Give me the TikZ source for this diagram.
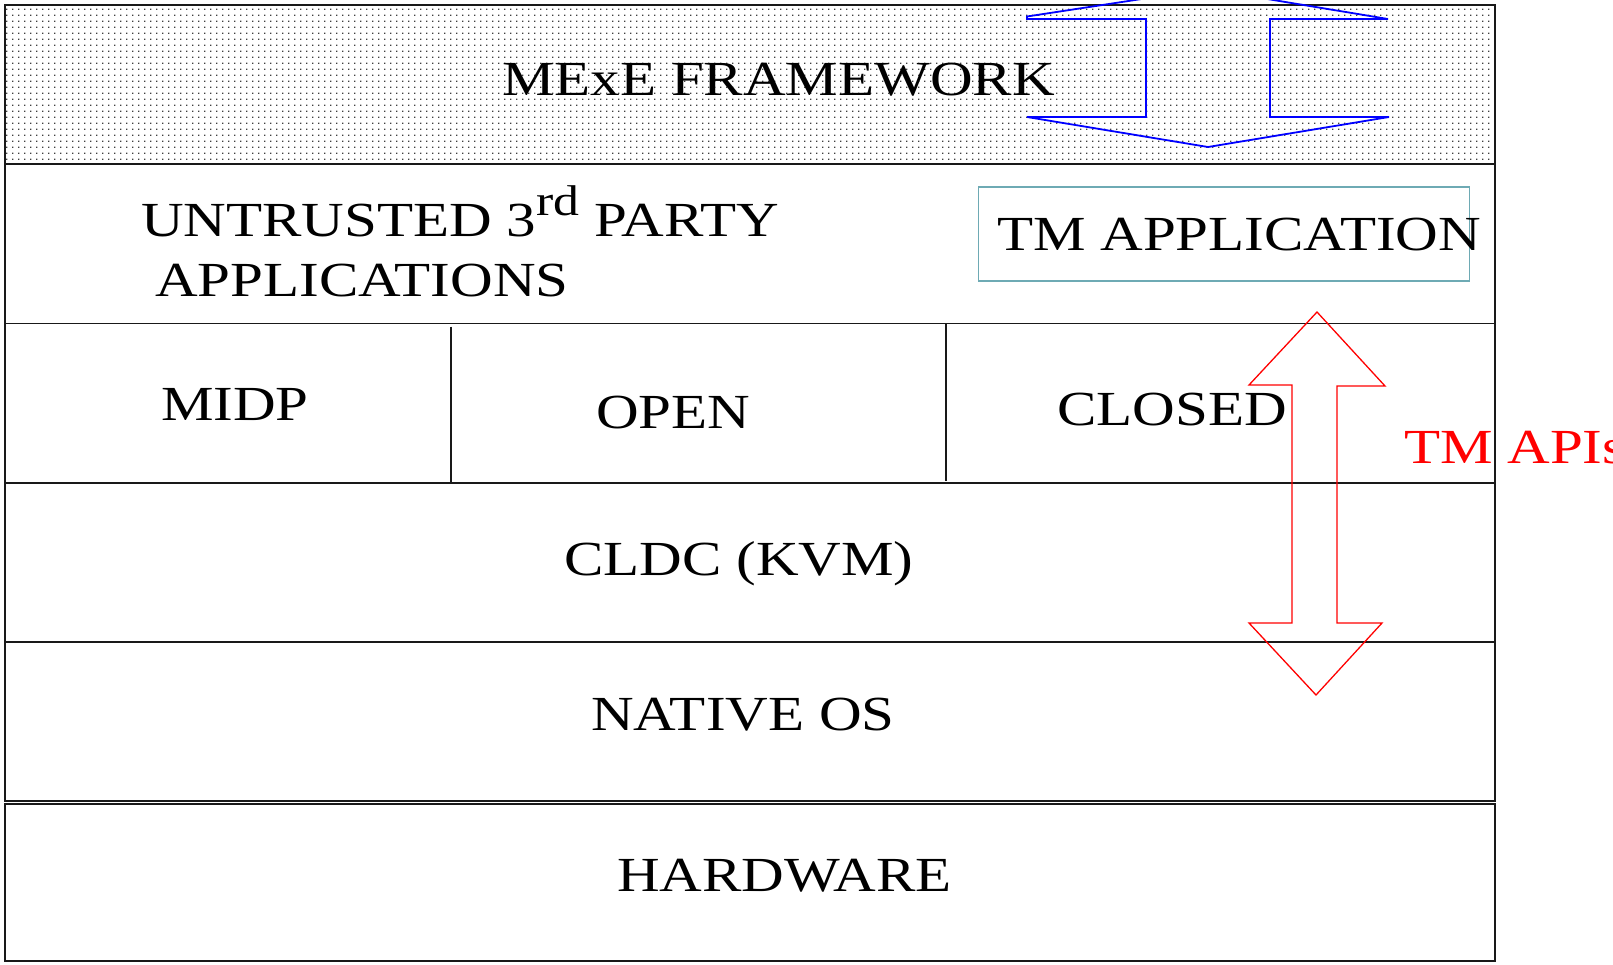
\documentclass[tikz,border=0pt]{standalone}
\usepackage{fontspec}
\setmainfont[FakeStretch=1.205]{Liberation Serif}
\usetikzlibrary{patterns}
\pgfdeclarepatternformonly{mexedots}{\pgfpointorigin}{\pgfpoint{6pt}{6pt}}{\pgfpoint{6pt}{6pt}}{%
  \pgfpathrectangle{\pgfpointorigin}{\pgfpoint{1.6pt}{1.6pt}}\pgfusepath{fill}}
\definecolor{tealbox}{RGB}{110,170,180}
\begin{document}
\begin{tikzpicture}[x=1pt,y=-1pt,
  layer/.style={draw=black!90, line width=1.6pt},
  lbl/.style={inner sep=0pt, anchor=base west, font=\fontsize{49pt}{58pt}\selectfont},
  redarrow/.style={draw=red, line width=1.3pt, line join=miter},
  bluearrow/.style={draw=blue, line width=1.8pt, line join=miter}]
\useasboundingbox (0,0) rectangle (1613,964);
\begin{scope}
\clip (0,0) rectangle (1613,964);
% layers
\fill[white] (0,0) rectangle (1613,964);
\draw[layer, pattern=mexedots, pattern color=black!75] (5,5) rectangle (1495,164);
\draw[layer] (5,164) rectangle (1495,323.3);
\draw[layer] (5,323.3) rectangle (1495,482.7);
\draw[layer] (450.7,326.7) -- (450.7,484);
\draw[layer] (946,323.3) -- (946,480.5);
\draw[layer] (5,482.7) rectangle (1495,641.7);
\draw[layer] (5,641.7) rectangle (1495,800.7);
\draw[layer] (5,804) rectangle (1495,961);
% TM application box
\draw[draw=tealbox, line width=1.3pt] (978.6,187) rectangle (1469.6,281);
% labels
\node[lbl] (mexe) at (502,95.7) {MExE FRAMEWORK};
\node[lbl] (untr) at (141,236) {UNTRUSTED 3\raisebox{21pt}{\fontsize{43pt}{43pt}\selectfont rd} PARTY};
\node[lbl] (apps) at (155,296.7) {APPLICATIONS};
\node[lbl] (tmapp) at (997,250) {TM APPLICATION};
\node[lbl] (midp) at (161,420) {MIDP};
\node[lbl] (open) at (596,428.3) {OPEN};
\node[lbl] (closed) at (1057,425) {CLOSED};
\node[lbl] (cldc) at (564,575) {CLDC (KVM)};
\node[lbl] (native) at (591,730) {NATIVE OS};
\node[lbl] (hw) at (617,891.7) {HARDWARE};
\node[lbl, text=red] (apis) at (1404,463) {TM APIs};
% red double arrow (TM APIs)
\draw[redarrow] (1292,385) -- (1249,385) -- (1317,312) -- (1385,386) -- (1337,386)
  -- (1337,623) -- (1382,623) -- (1316,695) -- (1249,623) -- (1292,623) -- cycle;
% blue double arrow (top)
\draw[bluearrow] (1146,19) -- (1027,19) -- (1027,16.5) -- (1207,-11) -- (1388,19) -- (1270,19)
  -- (1270,117) -- (1389,117) -- (1208,147) -- (1027,117) -- (1146,117) -- cycle;
\end{scope}
\end{tikzpicture}
\end{document}
